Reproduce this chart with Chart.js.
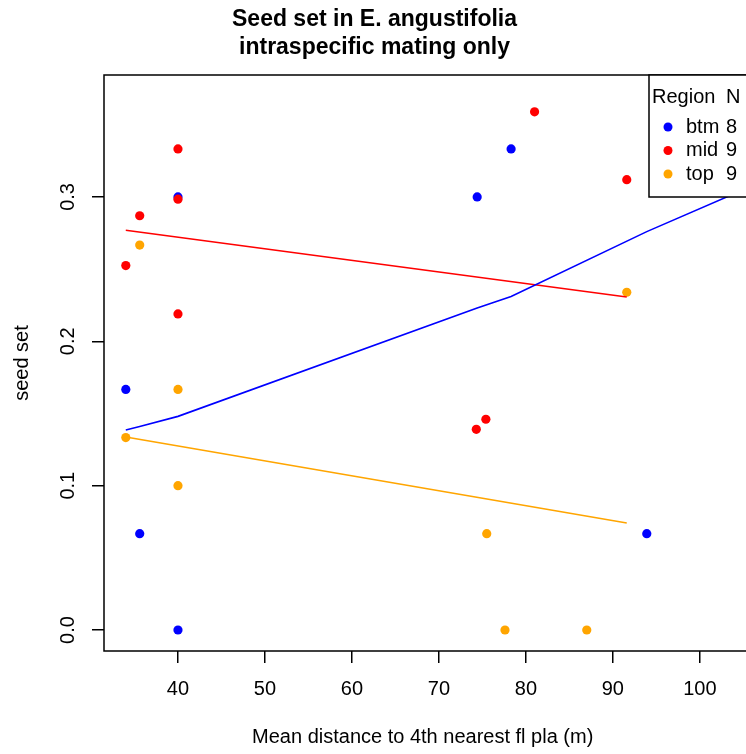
<!DOCTYPE html>
<html>
<head>
<meta charset="utf-8">
<script src="https://cdn.jsdelivr.net/npm/chart.js@4.4.1/dist/chart.umd.min.js"></script>
<style>
    html, body { margin: 0; padding: 0; background: #fff; }
</style>
</head>
<body>
<canvas id="seedChart" width="746" height="754"></canvas>
<script>
// ---- data ----
const regions = ['btm', 'mid', 'top'];
const regionN = [8, 9, 9];
const regionColors = ['#0000FF', '#FF0000', '#FFA500'];

const btmX = [34.0, 35.6, 40.0, 40.0, 74.4, 78.3, 93.9];
const btmY = [0.1667, 0.0667, 0.3000, 0.0000, 0.3000, 0.3333, 0.0667];

const midX = [34.0, 35.6, 40.0, 40.0, 40.0, 74.3, 75.4, 81.0, 91.6];
const midY = [0.2525, 0.2870, 0.3333, 0.2985, 0.2190, 0.1390, 0.1460, 0.3590, 0.3120];

const topX = [34.0, 35.6, 40.0, 40.0, 75.5, 77.6, 87.0, 91.6];
const topY = [0.1333, 0.2667, 0.1667, 0.1000, 0.0667, 0.0000, 0.0000, 0.2340];

// fitted (smoothed) lines per region
const btmFitX = [34.0, 35.6, 40.0, 74.4, 78.3, 93.9, 105.6];
const btmFitY = [0.1386, 0.1410, 0.1480, 0.2230, 0.2310, 0.2760, 0.3065];
const midFitX = [34.0, 91.6];
const midFitY = [0.2770, 0.2307];
const topFitX = [34.0, 91.6];
const topFitY = [0.1337, 0.0741];

const xTicks = [40, 50, 60, 70, 80, 90, 100];
const yTicks = [0.0, 0.1, 0.2, 0.3];
const yTickLabels = ['0.0', '0.1', '0.2', '0.3'];

const FONT = 'Liberation Sans, Arial, sans-serif';

const toXY = (xs, ys) => xs.map((x, i) => ({ x: x, y: ys[i] }));

// R-style open-right box, rotated y labels and boxed legend
const rStyle = {
    id: 'rStyle',
    afterDraw(chart) {
        const ctx = chart.ctx;
        const area = chart.chartArea;
        const yScale = chart.scales.y;
        const W = chart.width;

        ctx.save();
        // plot box (right side runs off the canvas)
        ctx.strokeStyle = '#000';
        ctx.lineWidth = 1.5;
        ctx.beginPath();
        ctx.moveTo(W + 2, area.top);
        ctx.lineTo(area.left, area.top);
        ctx.lineTo(area.left, area.bottom);
        ctx.lineTo(W + 2, area.bottom);
        ctx.stroke();

        // y tick labels, rotated like R
        ctx.fillStyle = '#000';
        ctx.font = '20px ' + FONT;
        ctx.textAlign = 'center';
        ctx.textBaseline = 'middle';
        yTicks.forEach((v, i) => {
            const py = yScale.getPixelForValue(v);
            ctx.save();
            ctx.translate(68, py);
            ctx.rotate(-Math.PI / 2);
            ctx.fillText(yTickLabels[i], 0, 0);
            ctx.restore();
        });

        // legend
        const lx = 649, ly = area.top;
        ctx.fillStyle = '#fff';
        ctx.fillRect(lx, ly, 120, 122);
        ctx.strokeStyle = '#000';
        ctx.strokeRect(lx, ly, 120, 122);

        ctx.fillStyle = '#000';
        ctx.textAlign = 'left';
        ctx.fillText('Region', 652, ly + 22);
        ctx.fillText('N', 726, ly + 22);
        regions.forEach((r, i) => {
            const cy = ly + 52 + i * 23.5;
            ctx.fillStyle = regionColors[i];
            ctx.beginPath();
            ctx.arc(668, cy, 4.5, 0, Math.PI * 2);
            ctx.fill();
            ctx.fillStyle = '#000';
            ctx.fillText(r, 686, cy);
            ctx.fillText(String(regionN[i]), 726, cy);
        });
        ctx.restore();
    }
};

const ctx = document.getElementById('seedChart');

const lineSet = (xs, ys, color) => ({
    type: 'line',
    data: toXY(xs, ys),
    borderColor: color,
    borderWidth: 1.6,
    pointRadius: 0,
    fill: false,
    tension: 0,
    clip: { left: 0, top: 0, right: 12, bottom: 0 }
});

const pointSet = (label, xs, ys, color) => ({
    label: label,
    data: toXY(xs, ys),
    backgroundColor: color,
    borderWidth: 0,
    pointRadius: 4.6
});

new Chart(ctx, {
    type: 'scatter',
    data: {
        datasets: [
            lineSet(btmFitX, btmFitY, regionColors[0]),
            lineSet(midFitX, midFitY, regionColors[1]),
            lineSet(topFitX, topFitY, regionColors[2]),
            pointSet('mid', midX, midY, regionColors[1]),
            pointSet('btm', btmX, btmY, regionColors[0]),
            pointSet('top', topX, topY, regionColors[2])
        ]
    },
    options: {
        responsive: false,
        animation: false,
        layout: {
            padding: { left: 0, right: -3, top: 0, bottom: 0 }
        },
        plugins: {
            legend: { display: false },
            tooltip: { enabled: false },
            title: {
                display: true,
                text: ['Seed set in E. angustifolia', 'intraspecific mating only'],
                color: '#000',
                font: { family: FONT, size: 23, weight: 'bold', lineHeight: 1.2 },
                padding: { top: 6, bottom: 13.8 }
            }
        },
        scales: {
            x: {
                type: 'linear',
                min: 31.494,
                max: 104.78,
                afterBuildTicks: (scale) => { scale.ticks = xTicks.map(v => ({ value: v })); },
                afterFit: (scale) => { scale.height = 103; },
                grid: {
                    drawOnChartArea: false,
                    drawTicks: true,
                    tickLength: 12,
                    color: '#000',
                    lineWidth: 1.5
                },
                border: { display: false },
                ticks: {
                    color: '#000',
                    padding: 14,
                    maxRotation: 0,
                    font: { family: FONT, size: 20 }
                },
                title: {
                    display: true,
                    text: 'Mean distance to 4th nearest fl pla (m)',
                    color: '#000',
                    font: { family: FONT, size: 20 },
                    padding: { top: 0, bottom: 5 }
                }
            },
            y: {
                type: 'linear',
                min: -0.01455,
                max: 0.3845,
                afterBuildTicks: (scale) => { scale.ticks = yTicks.map(v => ({ value: v })); },
                afterFit: (scale) => { scale.width = 104; },
                grid: {
                    drawOnChartArea: false,
                    drawTicks: true,
                    tickLength: 12,
                    color: '#000',
                    lineWidth: 1.5
                },
                border: { display: false },
                ticks: {
                    color: 'rgba(0,0,0,0)',
                    font: { family: FONT, size: 20 }
                },
                title: {
                    display: true,
                    text: 'seed set',
                    color: '#000',
                    font: { family: FONT, size: 20 },
                    padding: { top: 10, bottom: 0 }
                }
            }
        }
    },
    plugins: [rStyle]
});
</script>
</body>
</html>
